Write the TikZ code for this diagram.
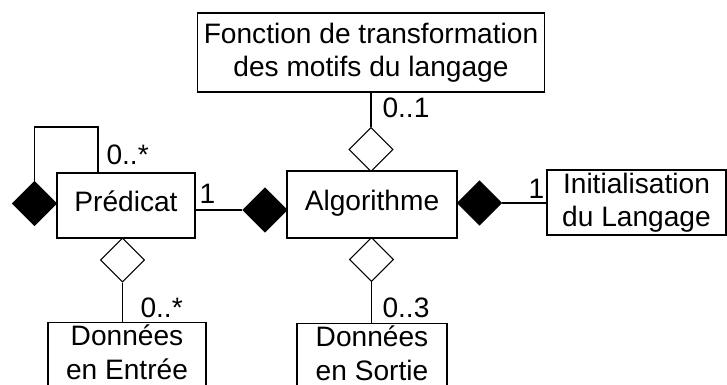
\documentclass[tikz,border=0pt]{standalone}
\usepackage{fontspec}
\setmainfont{Liberation Sans}
\usepackage{tikz}
\usetikzlibrary{shapes.geometric}

\begin{document}
\begin{tikzpicture}[x=0.02cm,y=-0.02cm,line width=0.6pt,
  font=\fontsize{16}{19}\selectfont,
  classbox/.style={draw,align=center,inner sep=0pt},
  oneline/.style={classbox,text height=0.72em,text depth=0pt},
  cutbox/.style={classbox,anchor=north,inner ysep=1.5pt,text depth=1em},
  losange/.style={draw,shape=diamond,aspect=1,inner sep=0pt,minimum width=0.88cm,minimum height=0.88cm},
  plein/.style={losange,fill=black},
  mult/.style={inner sep=0pt,anchor=base west}]
\useasboundingbox (0,0) rectangle (727,385);
\clip (0,0) rectangle (727,385);
% classes
\node[classbox,minimum width=6.96cm,minimum height=1.58cm] (fonct) at (371,52.5) {Fonction de transformation\\des motifs du langage};
\node[oneline,minimum width=3.4cm,minimum height=1.34cm] (algo) at (372,204.5) {Algorithme};
\node[oneline,minimum width=2.76cm,minimum height=1.3cm] (pred) at (126,205.5) {Prédicat};
\node[classbox,minimum width=3.58cm,minimum height=1.3cm] (init) at (636.5,202.5) {Initialisation\\du Langage};
\node[cutbox,minimum width=3.16cm] (entree) at (127,322) {Données\\en Entrée};
\node[cutbox,minimum width=3.0cm] (sortie) at (372,323) {Données\\en Sortie};
% losanges
\node[losange] (dtop) at (371,149.5) {};
\node[losange] (dbot) at (371.5,259.5) {};
\node[losange] (dpred) at (122.5,260) {};
\node[plein] (pl) at (34.5,203.5) {};
\node[plein] (ap) at (265,210) {};
\node[plein] (ar) at (479.5,203) {};
\coordinate (loop) at (98,127);
% liens
\draw (fonct.south -| dtop.north) -- (dtop.north);
\draw (dbot.south) -- (dbot.south |- sortie.north);
\draw (dpred.south) -- (dpred.south |- entree.north);
\draw (ap.west -| pred.east) -- (ap.west);
\draw (ar.east) -- (ar.east -| init.west);
\draw (pl.north) |- (loop) -- (loop |- pred.north);
% multiplicites
\node[mult] (m1) at (382,118) {0..1};
\node[mult] (m2) at (106,164) {0..*};
\node[mult] (m3) at (199,203) {1};
\node[mult] (m4) at (528,198) {1};
\node[mult] (m5) at (140,317) {0..*};
\node[mult] (m6) at (382,317) {0..3};
\end{tikzpicture}
\end{document}
